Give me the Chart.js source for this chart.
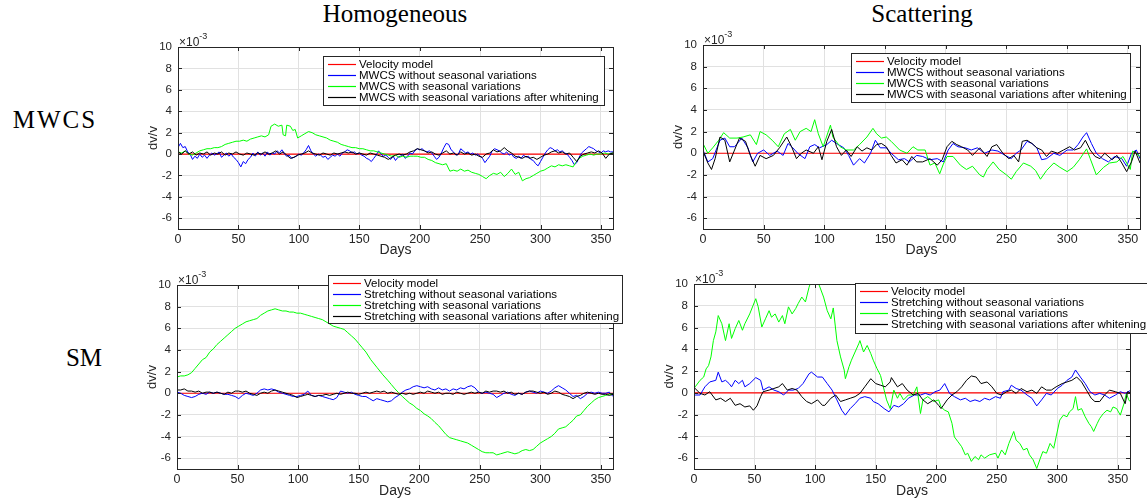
<!DOCTYPE html>
<html lang="en">

<head>
    <meta charset="UTF-8">
    <title>dv/v - MWCS e Stretching</title>
    <script src="https://cdn.jsdelivr.net/npm/chart.js"></script>
    <style>
        body { margin: 0; background: #fff; }
        #pagina { position: relative; width: 1147px; height: 500px; overflow: hidden; background: #fff; }
        .painel { position: absolute; }
        .titulo {
            position: absolute; font-family: "Liberation Serif", "DejaVu Serif", serif; font-size: 25px;
            line-height: 1; color: #000; white-space: nowrap; transform: translate(-50%, -50%);
        }
    </style>
</head>

<body>
    <div id="pagina">
        <div class="titulo" style="left:395px; top:13px;">Homogeneous</div>
        <div class="titulo" style="left:922px; top:13px;">Scattering</div>
        <div class="titulo" style="left:55px; top:119px; letter-spacing:2px;">MWCS</div>
        <div class="titulo" style="left:84px; top:357px;">SM</div>

        <div class="painel" style="left:120px; top:25px; width:500px; height:240px;"><canvas id="grafico1"></canvas></div>
        <div class="painel" style="left:645px; top:25px; width:502px; height:240px;"><canvas id="grafico2"></canvas></div>
        <div class="painel" style="left:120px; top:262px; width:510px; height:238px;"><canvas id="grafico3"></canvas></div>
        <div class="painel" style="left:640px; top:262px; width:507px; height:238px;"><canvas id="grafico4"></canvas></div>
    </div>
</body>

</html>

<script>
    // eixos
    var diasTicks = [0, 50, 100, 150, 200, 250, 300, 350]
    var dvTicks = [-6, -4, -2, 0, 2, 4, 6, 8, 10]

    // legendas
    var rotulosMwcs = ['Velocity model', 'MWCS without seasonal variations', 'MWCS with seasonal variations', 'MWCS with seasonal variations after whitening']
    var rotulosSm = ['Velocity model', 'Stretching without seasonal variations', 'Stretching with seasonal variations', 'Stretching with seasonal variations after whitening']

    // modelo de velocidade (dv/v = 0), [dia, dv/v x 1e-3]
    var modelo = [[0, 0], [360, 0]]

    // Homogeneous - MWCS
    var homMwcsSem = [[0,0.6],[2,1.0],[4,0.6],[6,0.7],[8,0.2],[10,0.0],[12,-0.5],[14,-0.2],[16,-0.4],[18,0.0],[20,-0.3],[22,-0.1],[24,-0.4],[26,-0.1],[28,0.1],[30,-0.1],[32,0.0],[34,0.2],[36,-0.3],[38,-0.1],[40,0.1],[42,-0.2],[44,0.0],[46,-0.3],[48,-0.5],[50,-0.8],[52,-1.2],[54,-0.7],[56,-0.9],[58,-0.5],[60,-0.3],[62,0.1],[64,-0.2],[66,0.2],[68,-0.1],[70,0.1],[72,-0.2],[74,0.2],[76,-0.1],[78,0.1],[80,0.0],[82,0.3],[84,0.1],[86,0.4],[88,0.0],[90,-0.2],[92,-0.1],[94,-0.4],[96,-0.3],[98,-0.2],[100,0.0],[102,-0.1],[104,0.1],[106,0.4],[108,0.8],[110,0.3],[112,0.0],[114,-0.2],[116,0.0],[118,-0.1],[120,-0.3],[122,-0.2],[124,-0.5],[126,-0.3],[128,-0.1],[130,-0.2],[132,0.0],[134,-0.2],[136,0.1],[138,0.2],[140,0.4],[142,0.3],[144,0.1],[146,0.2],[148,0.0],[150,0.1],[152,-0.1],[154,-0.2],[156,-0.4],[158,-0.5],[160,-0.7],[162,-0.4],[164,-0.1],[166,0.3],[168,0.0],[170,-0.2],[172,-0.1],[174,-0.3],[176,-0.5],[178,-0.2],[180,-0.6],[182,-0.3],[184,-0.2],[186,0.0],[188,-0.4],[190,-0.2],[192,0.1],[194,0.0],[196,0.3],[198,0.5],[200,0.4],[202,0.5],[204,0.3],[206,0.2],[208,0.3],[210,0.1],[212,-0.2],[214,-0.5],[216,-0.3],[218,0.1],[220,0.6],[222,1.0],[224,0.9],[226,0.4],[228,0.2],[230,-0.1],[232,0.0],[234,0.5],[236,0.3],[238,0.1],[240,0.2],[242,0.0],[244,0.1],[246,-0.1],[248,0.0],[250,-0.2],[252,-0.4],[254,-0.8],[256,-0.5],[258,-0.2],[260,0.3],[262,0.5],[264,0.4],[266,0.3],[268,0.1],[270,0.0],[272,0.2],[274,-0.1],[276,0.0],[278,-0.3],[280,-0.4],[282,-0.2],[284,-0.4],[286,-0.1],[288,-0.3],[290,-0.2],[292,-0.5],[294,-0.6],[296,-0.9],[298,-1.1],[300,-0.7],[302,-0.3],[304,0.1],[306,0.4],[308,0.6],[310,0.5],[312,0.3],[314,0.4],[316,0.2],[318,0.3],[320,0.1],[322,0.0],[324,-0.3],[326,-0.6],[328,-1.0],[330,-0.8],[332,-0.3],[334,0.1],[336,0.3],[338,0.5],[340,0.7],[342,0.6],[344,0.5],[346,0.3],[348,0.2],[350,0.1],[352,0.3],[354,0.2],[356,0.3],[358,0.2],[360,0.2]]
    var homMwcsCom = [[0,0.2],[3,0.1],[6,0.3],[9,0.0],[12,-0.1],[15,0.1],[18,0.3],[21,0.4],[24,0.5],[27,0.5],[30,0.6],[33,0.6],[36,0.7],[39,0.9],[42,1.0],[45,1.1],[48,1.2],[51,1.2],[54,1.3],[57,1.2],[60,1.4],[63,1.5],[66,1.6],[69,1.7],[72,1.6],[75,1.8],[77,2.6],[80,2.8],[83,2.6],[86,2.7],[87,1.8],[89,1.7],[90,2.7],[93,2.6],[95,2.2],[97,2.3],[99,1.5],[102,1.7],[105,1.9],[108,2.1],[111,2.0],[114,1.8],[117,1.7],[120,1.6],[123,1.5],[126,1.3],[129,1.2],[132,1.1],[135,0.9],[138,0.8],[141,0.7],[144,0.6],[147,0.6],[150,0.5],[153,0.5],[156,0.4],[159,0.3],[162,0.3],[165,0.2],[168,0.1],[171,0.0],[174,-0.1],[177,-0.2],[180,-0.1],[183,-0.3],[186,-0.2],[189,-0.3],[192,-0.2],[195,-0.2],[198,-0.2],[201,-0.3],[204,-0.3],[207,-0.5],[210,-0.6],[213,-0.8],[216,-0.9],[219,-1.0],[222,-0.9],[225,-1.6],[228,-1.5],[231,-1.6],[234,-1.4],[237,-1.6],[240,-1.5],[243,-1.7],[246,-1.8],[249,-1.9],[252,-2.1],[255,-2.3],[258,-2.0],[261,-1.8],[264,-1.9],[267,-1.7],[270,-2.1],[273,-1.8],[276,-1.4],[279,-1.9],[282,-1.7],[285,-2.5],[288,-2.3],[291,-2.2],[294,-2.0],[297,-1.8],[300,-1.6],[303,-1.5],[306,-1.3],[309,-1.1],[312,-1.2],[315,-1.0],[318,-1.1],[321,-1.0],[324,-1.1],[327,-1.2],[329,-0.8],[332,-0.4],[335,-0.2],[338,-0.1],[341,0.0],[344,-0.1],[347,0.0],[350,0.0],[353,0.1],[356,0.0],[360,0.1]]
    var homMwcsBranq = [[0,0.2],[3,0.0],[6,0.3],[9,0.0],[12,0.2],[15,-0.1],[18,0.1],[21,0.0],[24,0.2],[27,-0.1],[30,0.1],[33,0.0],[36,0.2],[39,-0.1],[42,0.1],[45,0.0],[48,0.2],[51,0.0],[54,-0.1],[57,0.1],[60,0.0],[63,-0.1],[66,0.1],[69,0.0],[72,0.2],[75,0.0],[78,0.1],[81,0.3],[84,0.0],[87,0.2],[90,-0.1],[93,-0.4],[96,-0.3],[99,-0.1],[102,0.0],[105,0.1],[108,0.3],[111,0.1],[114,0.0],[117,-0.1],[120,0.1],[123,0.0],[126,-0.1],[129,0.1],[132,0.0],[135,0.1],[138,0.2],[141,0.1],[144,0.2],[147,0.0],[150,0.1],[153,0.0],[156,-0.1],[159,0.1],[162,0.0],[165,-0.1],[168,-0.2],[171,-0.3],[174,-0.5],[177,-0.3],[180,-0.1],[183,0.0],[186,-0.1],[189,0.0],[192,0.2],[195,0.3],[198,0.5],[201,0.4],[204,0.3],[207,0.1],[210,0.2],[213,0.0],[216,-0.1],[219,0.1],[222,0.3],[225,0.0],[228,0.1],[231,-0.1],[234,0.2],[237,0.0],[240,0.1],[243,-0.1],[246,0.0],[249,-0.2],[252,-0.3],[255,0.0],[258,0.1],[261,0.4],[264,0.2],[267,0.3],[270,0.6],[273,0.3],[276,0.1],[279,-0.2],[282,-0.3],[285,-0.4],[288,-0.2],[291,-0.4],[294,-0.3],[297,-0.5],[300,-0.3],[303,-0.1],[306,0.0],[309,0.2],[312,0.3],[315,0.1],[318,0.2],[321,0.0],[324,0.1],[327,-0.3],[330,-0.7],[333,-0.2],[336,0.0],[339,0.1],[342,0.2],[345,0.1],[348,0.3],[351,0.1],[354,-0.4],[357,0.0],[360,0.1]]

    // Scattering - MWCS
    var scaMwcsSem = [[0,0.3],[4,-0.8],[8,-0.5],[14,1.2],[18,1.4],[22,0.6],[26,0.6],[32,1.4],[37,0.5],[41,-0.8],[45,0.0],[50,0.3],[55,-0.2],[61,0.2],[66,-0.2],[70,0.9],[74,0.5],[78,0.0],[84,-0.5],[88,0.6],[92,0.8],[96,0.5],[102,0.8],[106,1.2],[110,0.9],[116,0.5],[120,-0.2],[124,-1.1],[129,-0.5],[133,-0.9],[138,0.0],[142,1.2],[146,0.5],[151,0.5],[155,0.0],[161,-0.6],[166,-0.5],[170,-0.8],[176,-0.2],[181,-0.3],[187,-0.6],[193,-0.5],[198,-0.8],[202,0.3],[206,0.9],[210,0.6],[216,0.5],[221,0.3],[226,0.5],[232,0.0],[238,0.3],[243,0.2],[249,-0.2],[254,-0.5],[258,0.0],[262,0.3],[267,1.1],[271,0.9],[275,0.5],[279,-0.6],[283,-0.5],[289,0.0],[294,-0.2],[300,0.3],[305,0.3],[309,0.8],[313,1.5],[316,1.9],[320,0.9],[324,0.0],[329,-0.5],[334,-0.8],[339,-0.3],[345,-0.5],[349,-1.2],[353,0.0],[357,0.3],[360,-0.5]]
    var scaMwcsCom = [[0,0.9],[4,0.0],[8,0.5],[13,1.2],[17,1.9],[22,1.4],[28,1.4],[33,1.5],[39,1.7],[44,0.8],[47,2.0],[52,1.7],[57,1.2],[62,0.6],[67,1.8],[72,2.2],[76,1.2],[80,2.0],[85,2.3],[89,2.0],[92,3.1],[95,1.8],[99,0.6],[105,2.6],[107,1.5],[113,0.6],[118,0.3],[124,0.3],[129,0.8],[135,1.5],[140,2.3],[143,1.8],[147,1.4],[151,1.5],[155,1.1],[162,0.3],[168,0.0],[173,0.6],[177,0.3],[183,0.3],[187,-1.1],[191,-0.9],[195,-1.9],[198,-1.0],[201,-0.3],[206,-0.3],[212,-1.1],[217,-1.5],[222,-1.2],[228,-2.0],[231,-2.2],[234,-1.5],[239,-0.8],[244,-1.5],[250,-2.0],[254,-2.4],[258,-1.7],[264,-0.9],[270,-1.2],[274,-1.6],[278,-2.4],[283,-1.6],[289,-0.9],[294,-1.3],[300,-1.7],[305,-1.3],[310,-0.6],[316,0.4],[319,-0.5],[324,-2.0],[330,-1.3],[335,-0.9],[341,-0.8],[346,-0.3],[352,-1.5],[354,0.2],[360,-0.3]]
    var scaMwcsBranq = [[0,0.2],[4,-0.9],[7,-1.5],[10,-0.5],[14,1.5],[18,1.2],[22,-0.8],[26,0.3],[30,1.4],[35,1.1],[39,-0.2],[43,-1.2],[47,-0.2],[52,-0.5],[58,-0.2],[63,0.5],[69,1.5],[73,0.6],[77,-0.5],[81,0.0],[85,0.3],[91,0.0],[95,0.6],[98,-0.6],[102,1.1],[106,2.2],[110,0.6],[114,-0.2],[118,0.3],[122,-0.3],[127,0.6],[131,0.2],[135,0.5],[139,0.3],[143,0.8],[147,0.9],[151,0.6],[155,-0.2],[159,-0.9],[164,-0.6],[168,-1.1],[172,-0.3],[176,-0.8],[181,-0.8],[187,-0.5],[193,-1.1],[197,-0.6],[201,0.6],[205,1.1],[209,0.8],[213,0.6],[218,0.3],[222,-0.2],[228,0.5],[234,-0.3],[238,0.6],[242,0.8],[247,0.0],[252,-0.5],[256,-0.2],[260,-0.8],[263,1.1],[267,1.2],[271,0.9],[275,0.5],[279,0.3],[283,-0.3],[287,0.2],[292,0.0],[297,0.3],[302,0.6],[306,0.3],[311,0.5],[315,1.2],[319,0.3],[323,-0.3],[327,-0.5],[331,0.0],[337,-0.6],[341,-0.2],[345,-0.9],[349,-1.7],[353,-0.8],[356,0.2],[360,-0.9]]

    // Homogeneous - Stretching
    var homSmSem = [[0,0.1],[3,0.0],[6,-0.2],[9,-0.3],[12,-0.4],[15,-0.3],[18,-0.1],[21,0.0],[24,-0.1],[27,0.1],[30,0.0],[33,0.1],[36,0.0],[39,-0.1],[42,-0.1],[45,-0.2],[48,-0.3],[51,-0.5],[54,-0.2],[57,0.0],[60,-0.1],[63,-0.2],[66,0.0],[69,0.3],[72,0.4],[75,0.3],[78,0.4],[81,0.3],[84,0.1],[87,0.0],[90,-0.1],[93,-0.2],[96,-0.3],[99,-0.3],[102,-0.2],[105,-0.1],[108,0.2],[111,-0.2],[114,-0.3],[117,-0.2],[120,-0.3],[123,-0.4],[126,-0.5],[129,-0.6],[132,-0.4],[135,0.2],[138,0.1],[141,0.0],[144,0.1],[147,-0.1],[150,-0.2],[153,-0.3],[156,-0.3],[159,-0.5],[162,-0.7],[165,-0.5],[168,-0.6],[171,-0.7],[174,-0.8],[177,-0.7],[180,-0.4],[183,-0.2],[186,0.1],[189,0.3],[192,0.4],[195,0.6],[198,0.7],[201,0.6],[204,0.5],[207,0.6],[210,0.4],[213,0.3],[216,0.5],[219,0.3],[222,0.4],[225,0.2],[228,0.4],[231,0.3],[234,0.5],[237,0.4],[240,0.6],[243,0.7],[246,0.5],[249,0.1],[252,0.0],[255,0.1],[258,0.0],[261,-0.1],[264,-0.4],[267,-0.2],[270,0.0],[273,0.1],[276,-0.1],[279,-0.2],[282,0.0],[285,-0.1],[288,0.1],[291,0.2],[294,0.1],[297,0.0],[300,0.2],[303,0.1],[306,0.0],[309,0.2],[312,0.5],[315,0.7],[318,0.5],[321,0.3],[324,0.0],[327,-0.3],[330,-0.2],[333,-0.5],[336,-0.3],[339,0.0],[342,0.1],[345,0.0],[348,0.1],[351,0.0],[354,0.0],[357,0.1],[360,-0.3]]
    var homSmCom = [[0,1.5],[3,1.6],[6,1.6],[9,1.7],[12,1.9],[15,2.3],[18,2.7],[21,3.1],[24,3.3],[27,3.8],[30,4.1],[33,4.5],[36,4.8],[39,5.1],[42,5.4],[45,5.7],[48,6.0],[51,6.2],[54,6.4],[57,6.6],[60,6.7],[63,6.8],[66,6.9],[69,7.2],[72,7.4],[75,7.6],[78,7.7],[81,7.8],[84,7.7],[87,7.6],[90,7.6],[93,7.5],[96,7.5],[99,7.4],[102,7.4],[105,7.3],[108,7.2],[111,7.1],[114,7.0],[117,6.9],[120,6.8],[123,6.6],[126,6.4],[129,6.2],[132,6.1],[135,6.0],[138,5.9],[141,5.6],[144,5.3],[147,5.0],[150,4.6],[153,4.2],[156,3.8],[160,3.1],[165,2.4],[170,1.7],[174,1.2],[177,0.8],[180,0.4],[183,0.05],[186,-0.3],[189,-0.6],[192,-0.9],[195,-1.1],[198,-1.4],[201,-1.6],[204,-1.9],[207,-2.1],[210,-2.35],[213,-2.7],[216,-3.0],[219,-3.4],[222,-3.8],[225,-4.1],[228,-4.2],[231,-4.3],[234,-4.4],[237,-4.5],[240,-4.6],[243,-4.8],[246,-5.0],[249,-5.2],[252,-5.4],[255,-5.5],[258,-5.5],[261,-5.5],[264,-5.7],[267,-5.6],[270,-5.5],[273,-5.4],[276,-5.5],[279,-5.6],[282,-5.5],[285,-5.3],[288,-5.2],[291,-5.3],[294,-5.2],[297,-4.9],[300,-4.6],[303,-4.4],[306,-4.2],[309,-4.0],[312,-3.7],[315,-3.3],[318,-3.2],[321,-3.1],[324,-2.8],[327,-2.5],[330,-2.1],[333,-2.0],[336,-1.6],[339,-1.2],[342,-0.9],[345,-0.6],[348,-0.4],[351,-0.3],[354,-0.2],[357,-0.1],[360,-0.1]]
    var homSmBranq = [[0,0.3],[3,0.3],[6,0.4],[9,0.2],[12,0.2],[15,0.1],[18,0.2],[21,0.0],[24,0.1],[27,0.1],[30,0.0],[33,0.1],[36,0.0],[39,-0.1],[42,0.1],[45,0.0],[48,0.2],[51,0.2],[54,0.1],[57,0.2],[60,0.0],[63,-0.1],[66,-0.2],[69,0.0],[72,0.1],[75,0.0],[78,0.2],[81,0.3],[84,0.2],[87,0.1],[90,0.0],[93,-0.1],[96,-0.2],[99,-0.4],[102,-0.3],[105,-0.2],[108,-0.1],[111,-0.2],[114,-0.3],[117,-0.2],[120,-0.2],[123,-0.1],[126,-0.2],[129,-0.1],[132,0.0],[135,-0.1],[138,0.0],[141,0.1],[144,0.0],[147,0.0],[150,-0.1],[153,0.0],[156,0.1],[159,0.0],[162,0.1],[165,0.2],[168,0.1],[171,0.2],[174,0.0],[177,0.1],[180,0.0],[183,-0.1],[186,0.0],[189,-0.1],[192,0.0],[195,-0.1],[198,0.0],[201,0.1],[204,0.0],[207,0.2],[210,0.1],[213,0.0],[216,0.1],[219,-0.1],[222,0.0],[225,0.0],[228,-0.1],[231,0.1],[234,0.0],[237,-0.1],[240,0.0],[243,0.1],[246,0.0],[249,0.1],[252,0.0],[255,0.2],[258,0.1],[261,0.2],[264,0.2],[267,0.1],[270,0.2],[273,0.0],[276,0.1],[279,-0.1],[282,0.0],[285,-0.1],[288,0.1],[291,0.2],[294,0.2],[297,0.1],[300,0.0],[303,0.1],[306,-0.1],[309,0.0],[312,0.2],[315,0.1],[318,-0.1],[321,-0.2],[324,-0.3],[327,-0.5],[330,-0.3],[333,-0.2],[336,0.0],[339,0.1],[342,0.0],[345,-0.1],[348,0.0],[351,-0.1],[354,-0.1],[357,-0.2],[360,-0.1]]

    // Scattering - Stretching
    var scaSmSem = [[0,-0.1],[1,-0.2],[5,-0.2],[9,0.55],[13,1.0],[18,1.15],[20,1.9],[23,1.0],[26,1.15],[29,0.85],[31,0.55],[34,1.15],[37,0.85],[40,1.15],[42,0.55],[46,0.85],[51,1.4],[55,1.15],[57,0.25],[62,0.55],[66,0.25],[70,0.1],[74,-0.2],[78,0.25],[82,0.25],[86,0.4],[90,0.85],[95,1.75],[97,1.9],[102,1.45],[106,1.45],[110,0.85],[114,0.25],[118,-0.65],[122,-1.6],[125,-2.05],[129,-1.45],[133,-1.0],[137,-0.5],[141,-0.35],[146,-0.5],[148,-0.8],[152,-1.0],[157,-1.45],[161,-1.75],[165,-1.15],[169,-1.3],[173,-1.0],[177,-0.5],[182,-0.2],[187,-0.2],[191,-0.05],[195,-0.2],[199,0.1],[203,0.25],[207,0.85],[211,-0.05],[215,-0.35],[220,-0.65],[224,-0.5],[228,-0.8],[232,-0.65],[236,-0.8],[240,-0.5],[244,-0.65],[249,-0.35],[253,-0.5],[255,0.1],[260,0.25],[262,0.7],[266,0.4],[270,0.25],[275,-0.2],[279,-0.5],[283,-1.2],[287,-0.65],[291,-0.05],[295,-0.2],[300,0.4],[304,0.7],[308,1.15],[312,1.45],[315,2.1],[319,1.45],[323,0.85],[327,0.1],[331,-0.2],[335,-0.05],[339,-0.2],[343,-0.5],[348,-0.2],[352,0.1],[356,-0.05],[360,0.2]]
    var scaSmCom = [[0,0.4],[1,0.55],[5,1.15],[8,1.45],[10,2.2],[12,2.5],[14,3.3],[16,4.8],[18,5.6],[20,7.1],[23,6.35],[26,4.8],[29,6.35],[31,5.0],[34,5.9],[37,6.65],[40,5.75],[42,6.35],[46,7.25],[51,8.65],[53,7.9],[56,6.05],[59,6.8],[62,7.55],[64,6.95],[67,7.25],[70,6.5],[73,7.1],[75,6.35],[78,7.9],[81,7.25],[84,7.75],[86,8.2],[89,8.8],[92,8.35],[95,9.7],[97,10.4],[100,10.6],[103,10.0],[107,8.8],[110,7.55],[113,6.8],[115,7.8],[118,4.8],[121,3.3],[124,2.1],[125,1.3],[128,2.4],[130,3.0],[133,3.75],[136,4.5],[137,4.8],[140,3.75],[143,4.35],[146,3.6],[148,3.0],[151,2.25],[154,1.6],[157,0.25],[159,-0.65],[162,-1.45],[165,0.25],[168,-0.5],[170,-0.05],[173,-0.65],[177,-0.2],[181,-0.2],[184,0.55],[187,-1.9],[189,-0.65],[193,-0.35],[198,-0.8],[202,-0.65],[204,-1.3],[207,-1.6],[210,-1.75],[213,-2.8],[215,-4.05],[218,-4.5],[221,-4.95],[224,-5.7],[226,-5.55],[229,-6.3],[232,-5.85],[235,-6.15],[237,-5.7],[240,-6.0],[244,-5.7],[249,-5.55],[251,-6.0],[254,-5.25],[257,-5.7],[260,-4.65],[264,-3.55],[266,-4.35],[269,-4.65],[272,-5.25],[275,-5.1],[277,-5.7],[280,-6.15],[283,-6.95],[286,-6.0],[288,-5.4],[291,-5.55],[294,-4.65],[297,-5.1],[299,-4.05],[302,-2.5],[305,-2.05],[308,-2.2],[310,-1.75],[313,-1.45],[315,-0.35],[317,-1.6],[320,-1.45],[323,-2.2],[326,-2.8],[328,-3.1],[330,-3.55],[333,-2.8],[335,-2.35],[338,-1.9],[341,-1.6],[344,-1.75],[346,-1.3],[349,-1.45],[352,-2.05],[355,-1.0],[357,-0.05],[359,-0.65],[360,-0.8]]
    var scaSmBranq = [[0,0.5],[5,-0.05],[9,-0.2],[13,0.1],[18,-0.65],[22,-0.5],[26,-0.8],[30,-0.5],[34,-1.15],[38,-1.0],[42,-1.3],[46,-1.2],[49,-1.6],[52,-1.2],[55,-0.35],[57,0.1],[62,0.25],[66,0.4],[70,0.55],[73,0.85],[77,0.25],[81,0.4],[85,0.25],[89,-0.35],[93,-0.8],[97,-1.0],[102,-0.65],[106,-1.15],[108,-1.15],[113,-0.5],[117,-0.2],[121,-0.8],[125,-0.65],[129,-0.5],[133,-0.35],[137,-0.05],[141,0.55],[146,1.3],[150,0.85],[154,0.7],[158,0.55],[162,1.0],[163,1.4],[168,0.55],[172,0.85],[176,0.25],[181,-0.2],[185,-0.05],[189,-0.65],[193,-1.0],[198,-0.65],[202,-1.15],[204,-1.45],[209,-0.65],[213,-0.2],[217,0.1],[221,0.55],[225,1.15],[229,1.55],[233,1.45],[237,0.85],[242,1.0],[246,0.55],[250,-0.05],[254,-0.2],[258,0.1],[262,0.25],[266,-0.05],[270,0.4],[275,0.1],[279,0.25],[283,-0.05],[287,0.55],[291,0.25],[295,0.25],[299,0.55],[304,0.85],[308,1.0],[312,1.15],[316,1.45],[320,1.0],[324,0.25],[328,-0.5],[331,-0.8],[335,-0.8],[339,-0.2],[343,0.25],[348,0.1],[352,-0.05],[356,-1.0],[358,0.1],[360,0.0]]

    var coresLegenda = ['#ff0000', '#0000ff', '#00ff00', '#000000']
    var fonteSans = '"Liberation Sans", Arial, Helvetica, sans-serif'

    var pluginCaixa = {
        id: 'caixa',
        afterDraw(chart, args, opts) {
            var ctx = chart.ctx
            var a = chart.chartArea
            var xs = chart.scales.x
            var ys = chart.scales.y
            ctx.save()

            // caixa dos eixos + ticks para dentro
            ctx.strokeStyle = '#262626'
            ctx.lineWidth = 1
            ctx.beginPath()
            diasTicks.forEach(function (d) {
                var px = Math.round(xs.getPixelForValue(d)) + 0.5
                ctx.moveTo(px, a.bottom); ctx.lineTo(px, a.bottom - 4)
                ctx.moveTo(px, a.top); ctx.lineTo(px, a.top + 4)
            })
            dvTicks.forEach(function (v) {
                var py = Math.round(ys.getPixelForValue(v)) + 0.5
                ctx.moveTo(a.left, py); ctx.lineTo(a.left + 4, py)
                ctx.moveTo(a.right, py); ctx.lineTo(a.right - 4, py)
            })
            ctx.stroke()
            ctx.strokeRect(Math.round(a.left) + 0.5, Math.round(a.top) + 0.5, Math.round(a.right - a.left), Math.round(a.bottom - a.top))

            // x10^-3
            ctx.fillStyle = '#262626'
            ctx.textAlign = 'left'
            ctx.textBaseline = 'alphabetic'
            ctx.font = '12px ' + fonteSans
            ctx.fillText('×10', a.left + 1, a.top - 1.5)
            var w = ctx.measureText('×10').width
            ctx.font = '9px ' + fonteSans
            ctx.fillText('-3', a.left + 1 + w, a.top - 8)

            // legenda
            var lg = opts.legenda
            ctx.fillStyle = '#ffffff'
            ctx.fillRect(lg.x, lg.y, lg.w, lg.h)
            ctx.strokeStyle = '#262626'
            ctx.strokeRect(lg.x + 0.5, lg.y + 0.5, lg.w, lg.h)
            ctx.font = '11.5px ' + fonteSans
            ctx.textBaseline = 'middle'
            lg.rotulos.forEach(function (txt, i) {
                var y = Math.round(lg.y + 7.8 + i * 11.1) + 0.5
                ctx.strokeStyle = coresLegenda[i]
                ctx.lineWidth = 1.2
                ctx.beginPath(); ctx.moveTo(lg.x + 5, y); ctx.lineTo(lg.x + 33, y); ctx.stroke()
                ctx.fillStyle = '#000000'
                ctx.fillText(txt, lg.x + 36, y)
            })
            ctx.restore()
        }
    }

    function pontos(pares) {
        return pares.map(function (p) { return { x: p[0], y: p[1] } })
    }

    function criarGrafico(id, series, legenda, pad, alturaX) {
        var data = {
            datasets: [
                { data: pontos(series[3]), borderColor: coresLegenda[3], borderWidth: 1 },
                { data: pontos(series[2]), borderColor: coresLegenda[2], borderWidth: 1 },
                { data: pontos(series[1]), borderColor: coresLegenda[1], borderWidth: 1 },
                { data: pontos(series[0]), borderColor: coresLegenda[0], borderWidth: 1.2 }
            ]
        }
        data.datasets.forEach(function (ds) { ds.pointRadius = 0; ds.tension = 0; ds.fill = false })

        var config = {
            type: 'line',
            data: data,
            options: {
                responsive: true,
                maintainAspectRatio: false,
                animation: false,
                layout: { padding: pad },
                plugins: {
                    legend: { display: false },
                    tooltip: { enabled: false },
                    caixa: { legenda: legenda }
                },
                scales: {
                    x: {
                        type: 'linear', min: 0, max: 360,
                        afterBuildTicks: function (s) { s.ticks = diasTicks.map(function (v) { return { value: v } }) },
                        afterFit: function (s) { s.height = alturaX },
                        grid: { color: '#e1e1e1', drawTicks: false },
                        border: { display: false },
                        ticks: { color: '#262626', font: { family: fonteSans, size: 12.5 }, padding: 3, maxRotation: 0, callback: function (v) { return String(v) } },
                        title: { display: true, text: 'Days', color: '#262626', font: { family: fonteSans, size: 14 }, padding: 0 }
                    },
                    y: {
                        min: -7, max: 10,
                        afterBuildTicks: function (s) { s.ticks = dvTicks.map(function (v) { return { value: v } }) },
                        afterFit: function (s) { s.width = 32 },
                        grid: { color: '#e1e1e1', drawTicks: false },
                        border: { display: false },
                        ticks: { color: '#262626', font: { family: fonteSans, size: 11.5 }, padding: 6, callback: function (v) { return String(v) } },
                        title: { display: true, text: 'dv/v', color: '#262626', font: { family: fonteSans, size: 13 }, padding: 0 }
                    }
                }
            },
            plugins: [pluginCaixa]
        }
        return new Chart(document.getElementById(id), config)
    }

    criarGrafico('grafico1', [modelo, homMwcsSem, homMwcsCom, homMwcsBranq],
        { x: 203, y: 31, w: 281, h: 49, rotulos: rotulosMwcs },
        { left: 26, top: 22, right: 7, bottom: 6 }, 30)
    criarGrafico('grafico2', [modelo, scaMwcsSem, scaMwcsCom, scaMwcsBranq],
        { x: 206, y: 28, w: 279, h: 49, rotulos: rotulosMwcs },
        { left: 26, top: 20, right: 7, bottom: 6 }, 30)
    criarGrafico('grafico3', [modelo, homSmSem, homSmCom, homSmBranq],
        { x: 208, y: 13, w: 294, h: 48, rotulos: rotulosSm },
        { left: 25, top: 23, right: 17, bottom: 0 }, 31)
    criarGrafico('grafico4', [modelo, scaSmSem, scaSmCom, scaSmBranq],
        { x: 215, y: 21, w: 300, h: 50, rotulos: rotulosSm },
        { left: 22, top: 22, right: 17, bottom: 0 }, 31)
</script>
